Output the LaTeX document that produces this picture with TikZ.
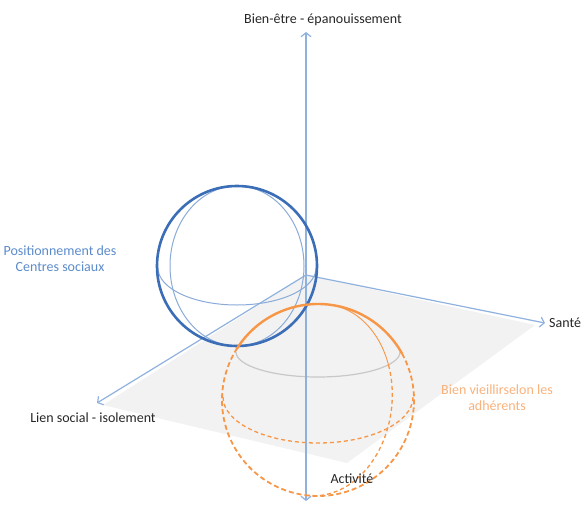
\documentclass[tikz,border=0pt]{standalone}
\usepackage{fontspec}
\setmainfont{Carlito}
\usepackage{tikz}
\usepackage{xcolor}
\usetikzlibrary{arrows.meta,positioning}
\definecolor{axisblue}{HTML}{8FB1DE}
\definecolor{sphereblue}{HTML}{3C6EB8}
\definecolor{lightblue}{HTML}{8AAAD8}
\definecolor{textblue}{HTML}{5B8BCB}
\definecolor{myorange}{HTML}{F79646}
\definecolor{paleorange}{HTML}{F8B27C}
\definecolor{planegray}{HTML}{F2F2F2}
\definecolor{cutgray}{HTML}{C8C8C8}
\tikzset{%
  axis/.style={axisblue,line width=1.2pt},
  caption/.style={font=\fontsize{14}{16}\selectfont,text=black!85,inner sep=1pt},
  shell/.style={sphereblue,line width=2.6pt},
  ring/.style={lightblue,line width=1pt},
  hull/.style={myorange,line width=2.4pt},
  hidden/.style={myorange,line width=1.8pt,dash pattern=on 5pt off 3pt},
  thinhull/.style={myorange,line width=0.9pt},
  thinhidden/.style={myorange,line width=1.3pt,dash pattern=on 4pt off 3pt},
}

\begin{document}
\begin{tikzpicture}[x=1pt,y=-1pt,>={Straight Barb[length=4pt,width=10pt]}]
  \useasboundingbox (0,0) rectangle (588,506);

  \coordinate (o) at (306,275);
  \coordinate (up) at (306,32);
  \coordinate (down) at (306,501);
  \coordinate (sante) at (545,323);
  \coordinate (lien) at (97,403);
  \coordinate (bluec) at (237,266);
  \coordinate (orangec) at (318,400);

  % plan
  \fill[planegray] (o) -- (535,325) -- (347,463) -- (103,405) -- cycle;
  \draw[cutgray,line width=1.2pt] (236,352) arc[start angle=180,end angle=0,x radius=82,y radius=25];

  % axes
  \draw[axis,<->] (down) -- (up);
  \draw[axis,->] (o) -- (sante);
  \draw[axis,->] (o) -- (lien);

  % sphere des centres sociaux
  \draw[ring] (bluec) ellipse[x radius=67,y radius=80];
  \draw[ring] (158,268) arc[start angle=180,end angle=0,x radius=79,y radius=37];
  \draw[shell] (bluec) circle[radius=80];

  % sphere des adherents
  \draw[hull] ([shift={(-148:96)}]orangec) arc[start angle=-148,end angle=-29,radius=96];
  \draw[hidden] ([shift={(-29:96)}]orangec) arc[start angle=-29,end angle=212,radius=96];
  \draw[thinhidden] (223,397) arc[start angle=180,end angle=0,x radius=95,y radius=46];
  \begin{scope}[shift={(318,400)},rotate=-6]
    \draw[thinhull] (0,-96) arc[start angle=-90,end angle=-26,x radius=74,y radius=96];
    \draw[thinhidden] (-26:74 and 96) arc[start angle=-26,end angle=90,x radius=74,y radius=96];
  \end{scope}

  % textes
  \node[caption] (bien) at (323,20) {Bien-être - épanouissement};
  \node[caption,right=3pt of sante] (santelabel) {Santé};
  \node[caption,below=9pt of lien,xshift=-4pt] (lienlabel) {Lien social - isolement};
  \node[caption] (activite) at (352,479) {Activité};
  \node[caption,text=textblue,align=center] (centres) at (60,259) {Positionnement des\\Centres sociaux};
  \node[caption,text=paleorange,align=center] (adherents) at (497,398) {Bien vieillirselon les\\adhérents};
\end{tikzpicture}
\end{document}
